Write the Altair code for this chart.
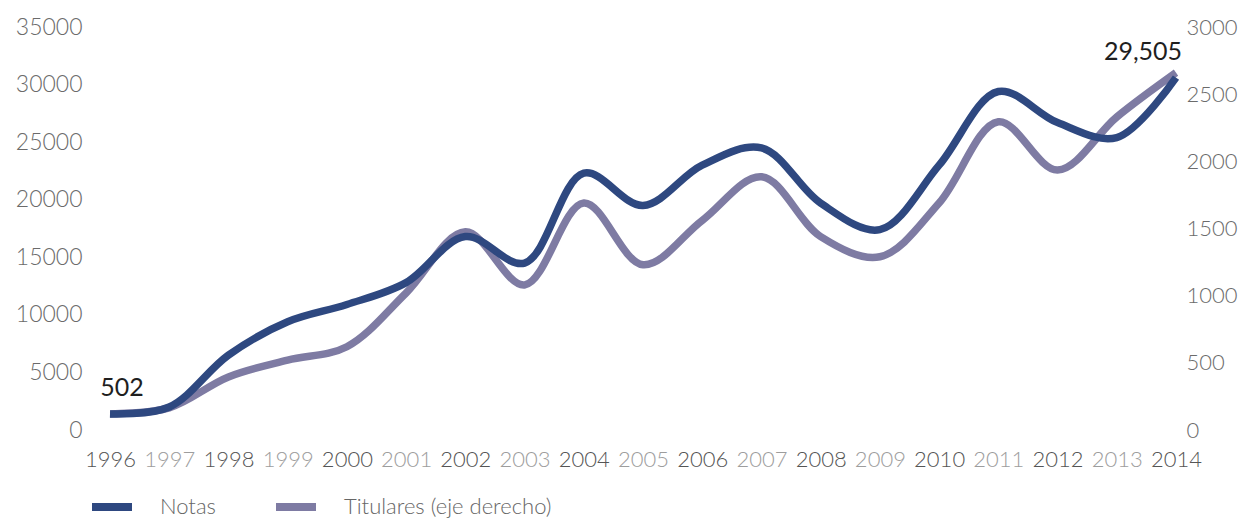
import altair as alt
import pandas as pd

years = list(range(1996, 2015))
notas = [1400, 2000, 6500, 9400, 10900, 12800, 16800, 14500, 22300, 19500,
         23000, 24500, 19700, 17400, 23000, 29400, 26700, 25400, 30600]
titulares = [120, 165, 395, 520, 620, 1020, 1475, 1080, 1690, 1230,
             1560, 1885, 1440, 1290, 1690, 2295, 1935, 2330, 2660]
series_names = ["Notas", "Titulares (eje derecho)"]
series_colors = ["#2E4880", "#7E7BA3"]
left_ticks = [0, 5000, 10000, 15000, 20000, 25000, 30000, 35000]
right_ticks = [0, 500, 1000, 1500, 2000, 2500, 3000]
ann_years = [1996, 2014]
ann_labels = ["502", "29,505"]

FONT = "Lato"

df_n = pd.DataFrame({"year": years, "value": notas, "series": series_names[0]})
df_t = pd.DataFrame({"year": years, "value": titulares, "series": series_names[1]})
df_a = pd.DataFrame({
    "year": ann_years,
    "value": [notas[years.index(y)] for y in ann_years],
    "label": ann_labels,
})

x_enc = alt.X(
    "year:O",
    scale=alt.Scale(type="point", padding=0),
    axis=alt.Axis(
        title=None, domain=False, ticks=False, labelAngle=0, labelPadding=19,
        labelFontSize=22, labelFont=FONT, labelFontWeight=300, labelOverlap=False,
        labelColor={"condition": {"test": "datum.value % 2 == 0", "value": "#555555"},
                    "value": "#9d9d9d"},
    ),
)

color_enc = alt.Color(
    "series:N",
    scale=alt.Scale(domain=series_names, range=series_colors),
    legend=alt.Legend(
        title=None, orient="none", legendX=-22, legendY=456, direction="horizontal",
        symbolType="stroke", symbolSize=1600, symbolStrokeWidth=8,
        labelFont=FONT, labelFontSize=22, labelFontWeight=300, labelColor="#666666",
        labelOffset=24, columnPadding=44, labelLimit=400,
    ),
)

left_scale = alt.Scale(domain=[0, 35000], nice=False, zero=True)
right_scale = alt.Scale(domain=[0, 3000], nice=False, zero=True)

line_n = alt.Chart(df_n).mark_line(
    strokeWidth=7.5, interpolate="catmull-rom", strokeCap="butt"
).encode(
    x=x_enc,
    y=alt.Y("value:Q", scale=left_scale, axis=alt.Axis(
        title=None, values=left_ticks, domain=False, ticks=False, grid=False,
        labelPadding=28, labelFontSize=23, labelFont=FONT, labelFontWeight=300,
        labelColor="#6b6b6b", format="d")),
    color=color_enc,
)

text_l = alt.Chart(df_a[df_a.year == 1996]).mark_text(
    font=FONT, fontSize=25, color="#1f1f1f", dx=12, dy=-26
).encode(
    x=alt.X("year:O", scale=alt.Scale(type="point", padding=0)),
    y=alt.Y("value:Q", scale=left_scale),
    text="label:N",
)
text_r = alt.Chart(df_a[df_a.year == 2014]).mark_text(
    font=FONT, fontSize=25, color="#1f1f1f", dx=-33, dy=-26
).encode(
    x=alt.X("year:O", scale=alt.Scale(type="point", padding=0)),
    y=alt.Y("value:Q", scale=left_scale),
    text="label:N",
)

left_layer = alt.layer(line_n, text_l, text_r)

line_t = alt.Chart(df_t).mark_line(
    strokeWidth=7.5, interpolate="catmull-rom", strokeCap="butt"
).encode(
    x=x_enc,
    y=alt.Y("value:Q", scale=right_scale, axis=alt.Axis(
        title=None, orient="right", values=right_ticks, domain=False, ticks=False,
        grid=False, labelPadding=10, labelFontSize=22, labelFont=FONT,
        labelFontWeight=300, labelColor="#6b6b6b", format="d")),
    color=color_enc,
)

chart = alt.layer(line_t, left_layer).resolve_scale(y="independent").properties(
    width=1066, height=403,
    autosize=alt.AutoSizeParams(type="none"),
    padding={"left": 102, "top": 19, "right": 63, "bottom": 91},
).configure_view(stroke=None)

chart.save("out.html", embed_options={"renderer": "svg", "actions": False})
